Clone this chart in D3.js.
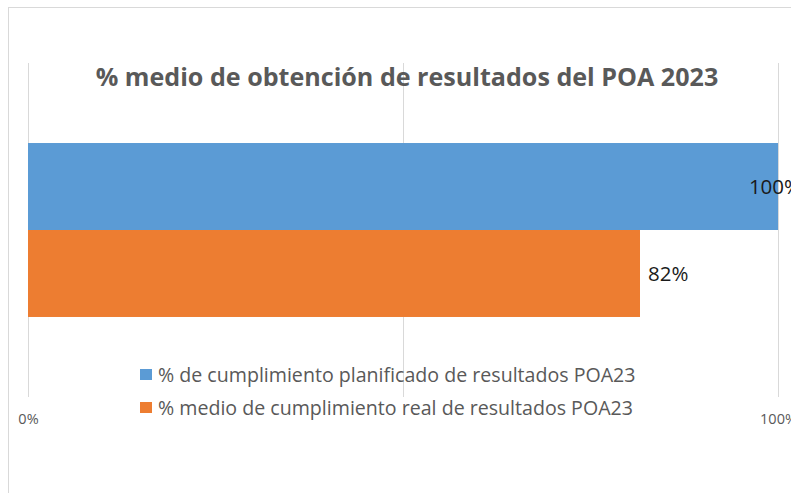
<!DOCTYPE html>
<html>
<head>
<meta charset="utf-8">
<script src="https://cdn.jsdelivr.net/npm/d3@7"></script>
<style>
  body { margin: 0; background: #fff; overflow: hidden; }
  svg { display: block; font-family: "Open Sans", sans-serif; }
</style>
</head>
<body>
<script>
// chart data
var title      = '% medio de obtención de resultados del POA 2023';
var categories = ['POA 2023'];
var series     = ['% de cumplimiento planificado de resultados POA23',
                  '% medio de cumplimiento real de resultados POA23'];
var values     = [1.00, 0.816];
var colors     = ['#5B9BD5', '#ED7D31'];
var gridTicks  = [0, 0.5, 1];
var axisLabels = [0, 1];   // the 50% label is not shown in the original

var W = 791, H = 493;
var plot = { left: 28, right: 778, top: 63, bottom: 397 };
var chartRight = 801;      // labels are pushed back inside this edge

var svg = d3.select('body').append('svg')
    .attr('width', W)
    .attr('height', H);

// chart border (runs off the right and bottom of the picture)
svg.append('rect')
    .attr('x', 8.5).attr('y', 7.5)
    .attr('width', 820).attr('height', 520)
    .attr('fill', 'none')
    .attr('stroke', '#d9d9d9');

// scales
var x = d3.scaleLinear().domain([0, 1]).range([plot.left, plot.right]);
var y = d3.scaleBand().domain(categories)
    .range([plot.top, plot.bottom])
    .paddingInner(0).paddingOuter(0.46);
var ys = d3.scaleBand().domain(series).range([0, y.bandwidth()]);

// gridlines
svg.append('g').selectAll('line')
  .data(gridTicks)
  .enter().append('line')
    .attr('x1', function(d) { return Math.round(x(d)) + 0.5; })
    .attr('x2', function(d) { return Math.round(x(d)) + 0.5; })
    .attr('y1', plot.top)
    .attr('y2', plot.bottom)
    .attr('stroke', '#d9d9d9');

// axis labels (only 0% and 100%)
var axis = d3.axisBottom(x)
    .tickValues(axisLabels)
    .tickFormat(d3.format('.0%'))
    .tickSize(0)
    .tickPadding(0);
var ax = svg.append('g')
    .attr('transform', 'translate(0,' + 414 + ')')
    .call(axis);
ax.select('.domain').remove();
ax.selectAll('text')
    .attr('font-family', '"Open Sans", sans-serif')
    .attr('font-size', 14.5)
    .attr('fill', '#595959');

// bars
var rows = series.map(function(s, i) {
  return { cat: categories[0], s: s, v: values[i], c: colors[i] };
});

svg.append('g').selectAll('rect')
  .data(rows)
  .enter().append('rect')
    .attr('x', x(0))
    .attr('y', function(d) { return y(d.cat) + ys(d.s); })
    .attr('width', function(d) { return x(d.v) - x(0); })
    .attr('height', ys.bandwidth())
    .attr('fill', function(d) { return d.c; });

// value labels
var fmt = d3.format('.0%');
svg.append('g').selectAll('text')
  .data(rows)
  .enter().append('text')
    .attr('y', function(d) { return y(d.cat) + ys(d.s) + ys.bandwidth() / 2; })
    .attr('dy', '0.35em')
    .attr('font-size', 20.5)
    .attr('fill', '#1a1a1a')
    .text(function(d) { return fmt(d.v); })
    .attr('x', function(d) {
      var w = this.getComputedTextLength();
      return Math.min(x(d.v) + 8, chartRight - w);
    });

// title
svg.append('text')
    .attr('x', 407)
    .attr('y', 77)
    .attr('dy', '0.35em')
    .attr('text-anchor', 'middle')
    .attr('font-size', 25.1)
    .attr('font-weight', 'bold')
    .attr('fill', '#595959')
    .text(title);

// legend
var legend = svg.append('g').selectAll('g')
  .data(series)
  .enter().append('g')
    .attr('transform', function(d, i) { return 'translate(140,' + (375 + i * 33) + ')'; });

legend.append('rect')
    .attr('x', 0).attr('y', -6)
    .attr('width', 12).attr('height', 11)
    .attr('fill', function(d, i) { return colors[i]; });

legend.append('text')
    .attr('x', 18)
    .attr('dy', '0.35em')
    .attr('font-size', 19.6)
    .attr('fill', '#595959')
    .text(function(d) { return d; });
</script>
</body>
</html>
